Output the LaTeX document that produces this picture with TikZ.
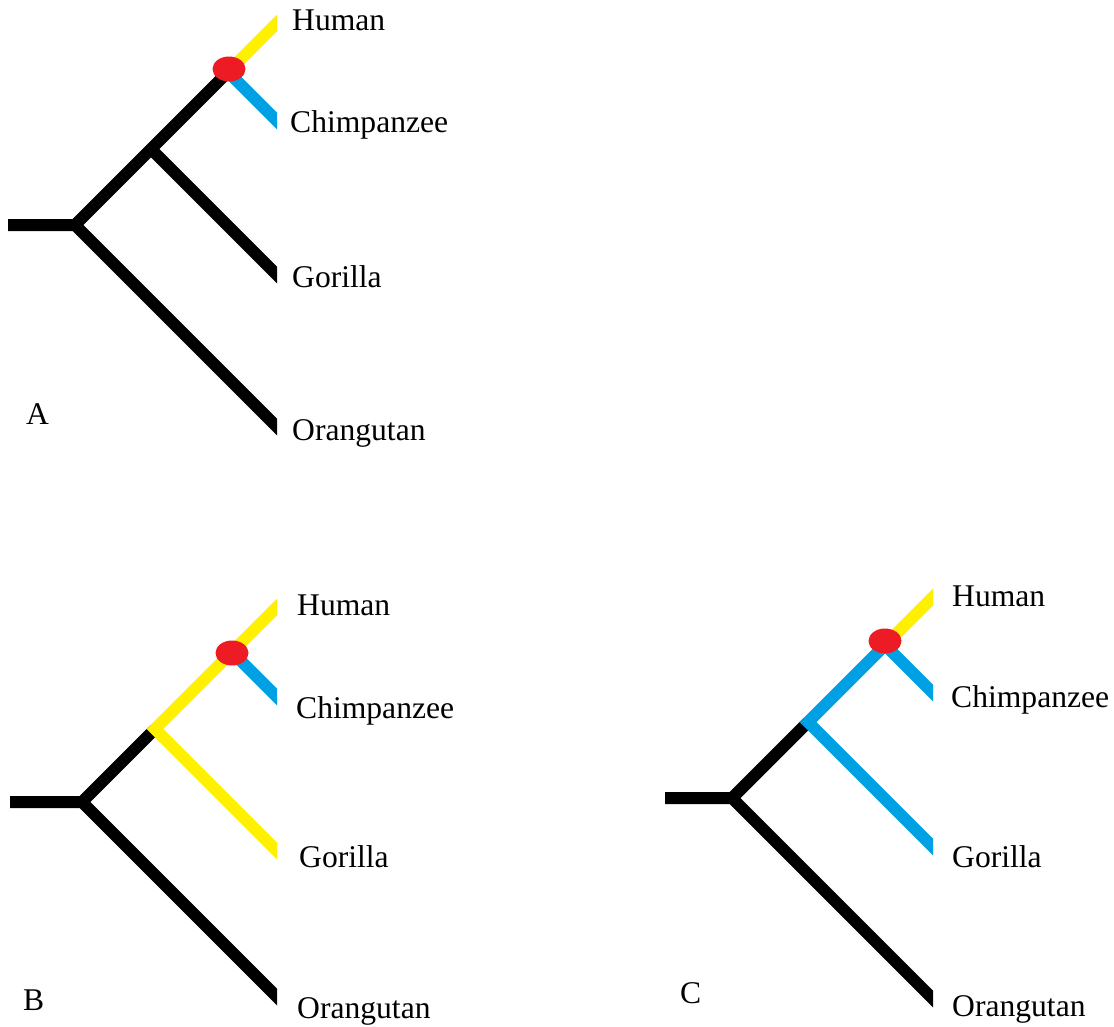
\documentclass[tikz,border=0pt]{standalone}
\usepackage{fontspec}
\setmainfont{Liberation Serif}
\definecolor{branchblack}{RGB}{0,0,0}
\definecolor{humanyellow}{RGB}{255,240,0}
\definecolor{chimpblue}{RGB}{0,161,228}
\definecolor{splitred}{RGB}{237,28,36}
\tikzset{
  branch/.style={line width=12pt, line join=miter, line cap=butt},
  blk/.style={branch, draw=branchblack},
  ylw/.style={branch, draw=humanyellow},
  blu/.style={branch, draw=chimpblue},
  splitdot/.style={ellipse, fill=splitred, minimum width=33pt, minimum height=25pt, inner sep=0pt},
  taxon/.style={anchor=base west, inner sep=0pt, font=\fontsize{31.6}{38}\selectfont},
  panel/.style={anchor=base west, inner sep=0pt, font=\fontsize{31.6}{38}\selectfont}
}
\usetikzlibrary{shapes.geometric}
\begin{document}
\begin{tikzpicture}[x=1pt,y=-1pt]
\useasboundingbox[fill=white] (0,0) rectangle (1114,1026);

% ---------- Tree A ----------
\coordinate (aS) at (8,225);
\coordinate (aR) at (75,225);
\coordinate (aG) at (151,149);
\coordinate (aH) at (228,72);
\coordinate (aTh) at (290,10);
\coordinate (aTc) at (290,134);
\coordinate (aTg) at (290,288);
\coordinate (aTo) at (290,440);
\begin{scope}
  \clip (0,0) rectangle (277,500);
  \draw[blk] (aS) -- (aR) -- (aTo);
  \draw[blk] (aR) -- (aH);
  \draw[blk] (aG) -- (aTg);
  \draw[ylw] (aH) -- (aTh);
  \draw[blu] (aH) -- (aTc);
\end{scope}
\node[splitdot] (aDot) at (229,69) {};
\node[taxon] (aHum) at (292,30) {Human};
\node[taxon] (aChi) at (290,132) {Chimpanzee};
\node[taxon] (aGor) at (292,287) {Gorilla};
\node[taxon] (aOra) at (292,440) {Orangutan};
\node[panel] (aLab) at (26,424) {A};

% ---------- Tree B ----------
\coordinate (bS) at (10,802);
\coordinate (bR) at (82,802);
\coordinate (bG) at (155,729);
\coordinate (bH) at (232,652);
\coordinate (bTh) at (290,594);
\coordinate (bTc) at (290,710);
\coordinate (bTg) at (290,864);
\coordinate (bTo) at (290,1010);
\begin{scope}
  \clip (0,560) rectangle (277,1026);
  \draw[blk] (bS) -- (bR) -- (bTo);
  \draw[blk] (bR) -- (bG);
  \draw[ylw] (bTg) -- (bG) -- (bTh);
  \draw[blu] (bH) -- (bTc);
\end{scope}
\node[splitdot] (bDot) at (232,653) {};
\node[taxon] (bHum) at (297,615) {Human};
\node[taxon] (bChi) at (296,718) {Chimpanzee};
\node[taxon] (bGor) at (299,867) {Gorilla};
\node[taxon] (bOra) at (297,1018) {Orangutan};
\node[panel] (bLab) at (23,1010) {B};

% ---------- Tree C ----------
\coordinate (cS) at (665,798);
\coordinate (cR) at (732,798);
\coordinate (cG) at (808,722);
\coordinate (cH) at (885,645);
\coordinate (cTh) at (946,584);
\coordinate (cTc) at (946,706);
\coordinate (cTg) at (946,860);
\coordinate (cTo) at (946,1012);
\begin{scope}
  \clip (600,560) rectangle (933,1026);
  \draw[blk] (cS) -- (cR) -- (cTo);
  \draw[blk] (cR) -- (cG);
  \draw[blu] (cTg) -- (cG) -- (cH);
  \draw[blu] (cH) -- (cTc);
  \draw[ylw] (cH) -- (cTh);
\end{scope}
\node[splitdot] (cDot) at (885,641) {};
\node[taxon] (cHum) at (952,606) {Human};
\node[taxon] (cChi) at (951,707) {Chimpanzee};
\node[taxon] (cGor) at (952,867) {Gorilla};
\node[taxon] (cOra) at (952,1016) {Orangutan};
\node[panel] (cLab) at (680,1003) {C};
\end{tikzpicture}
\end{document}
